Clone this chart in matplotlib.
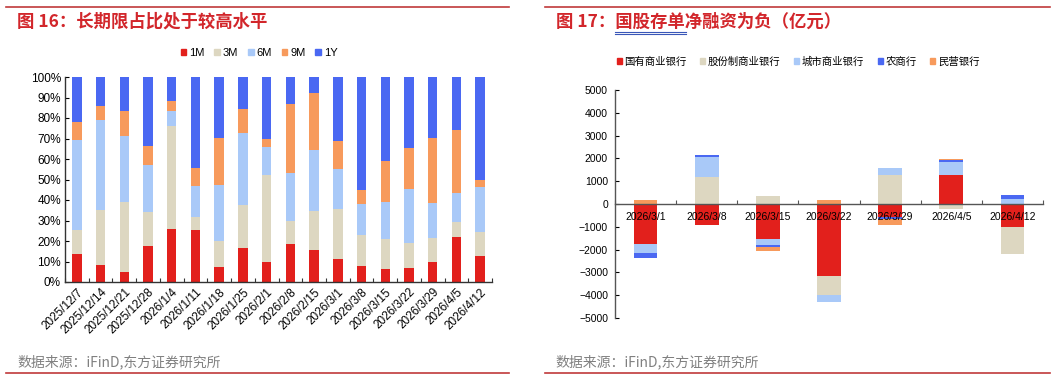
import matplotlib
matplotlib.use("Agg")
import matplotlib.pyplot as plt
from matplotlib.lines import Line2D
from matplotlib.patches import Patch
import numpy as np

plt.rcParams["font.family"] = ["Liberation Sans", "Noto Sans CJK SC", "DejaVu Sans"]

# ---- data: tenor shares of issuance (%) ----
weeks = ["2025/12/7", "2025/12/14", "2025/12/21", "2025/12/28", "2026/1/4",
         "2026/1/11", "2026/1/18", "2026/1/25", "2026/2/1", "2026/2/8",
         "2026/2/15", "2026/3/1", "2026/3/8", "2026/3/15", "2026/3/22",
         "2026/3/29", "2026/4/5", "2026/4/12"]
tenors = ["1M", "3M", "6M", "9M", "1Y"]
share_1m = [13.5, 8.5, 5.0, 17.4, 25.9, 25.5, 7.2, 16.4, 9.9, 18.7, 15.8, 11.2, 7.8, 6.5, 6.8, 9.9, 21.8, 12.7]
share_3m = [12.0, 26.8, 33.9, 16.6, 50.0, 6.2, 12.6, 21.3, 42.5, 10.9, 18.7, 24.6, 15.1, 14.5, 12.1, 11.7, 7.3, 11.7]
share_6m = [43.9, 43.9, 32.5, 23.0, 7.4, 15.3, 27.7, 35.0, 13.3, 23.6, 30.1, 19.3, 15.3, 18.2, 26.3, 16.9, 14.3, 21.8]
share_9m = [8.6, 6.5, 11.9, 9.5, 4.8, 8.4, 22.7, 11.7, 4.2, 33.8, 27.6, 13.8, 6.8, 19.8, 20.0, 31.9, 30.6, 3.7]
share_1y = [22.0, 14.3, 16.7, 33.5, 11.9, 44.6, 29.8, 15.6, 30.1, 13.0, 7.8, 31.1, 55.0, 41.0, 34.8, 29.6, 26.0, 50.1]

# ---- data: net financing by bank type (100m yuan) ----
dates = ["2026/3/1", "2026/3/8", "2026/3/15", "2026/3/22", "2026/3/29", "2026/4/5", "2026/4/12"]
bank_types = ["国有商业银行", "股份制商业银行", "城市商业银行", "农商行", "民营银行"]
net_state = [-1740, -930, -1530, -3140, -550, 1290, -1030]
net_joint = [0, 1170, 330, -850, 1290, -200, -1170]
net_city = [-410, 880, -250, -320, 290, 540, 230]
net_rural = [-220, 90, -90, 0, -120, 100, 170]
net_private = [190, 0, -170, 180, -250, 60, 0]

RED, BEIGE, LBLUE, BLUE, ORANGE = "#E2201C", "#DDD7C1", "#A9C9F8", "#4A68F2", "#F79A5C"
tenor_colors = [RED, BEIGE, LBLUE, ORANGE, BLUE]
bank_colors = [RED, BEIGE, LBLUE, BLUE, ORANGE]
title_red = "#D2262B"
rule_red = "#C0393B"

fig = plt.figure(figsize=(10.6, 3.86), dpi=100)


def frame_px(x0, x1, y, color=rule_red, lw=1.2):
    fig.add_artist(Line2D([x0 / 1060, x1 / 1060], [1 - y / 386] * 2, color=color, lw=lw))


def text_px(x, y, s, **kw):
    fig.text(x / 1060, 1 - y / 386, s, va="center", ha="left", **kw)


# decorations: report rules, titles, sources
frame_px(6, 509, 7)
frame_px(6, 509, 373)
frame_px(545, 1050, 7)
frame_px(545, 1050, 373)
text_px(17, 22, "图 16：长期限占比处于较高水平", color=title_red, fontsize=12.5, fontweight="bold",
        family=["Noto Sans CJK SC"])
text_px(556, 22, "图 17：国股存单净融资为负（亿元）", color=title_red, fontsize=12.5, fontweight="bold",
        family=["Noto Sans CJK SC"])
frame_px(615, 686, 31.5, color="#3A57B8", lw=0.8)
frame_px(615, 686, 33.5, color="#3A57B8", lw=0.8)
text_px(17, 362, "数据来源：iFinD,东方证券研究所", color="#808080", fontsize=10, family=["Noto Sans CJK SC"])
text_px(555, 362, "数据来源：iFinD,东方证券研究所", color="#808080", fontsize=10, family=["Noto Sans CJK SC"])

# ---- left: stacked percentage bars ----
ax1 = fig.add_axes([65 / 1060, 1 - 282 / 386, 427 / 1060, 205 / 386])
x1 = np.arange(len(weeks))
bottom = np.zeros(len(weeks))
for vals, c, name in zip([share_1m, share_3m, share_6m, share_9m, share_1y], tenor_colors, tenors):
    v = np.array(vals)
    ax1.bar(x1, v, 0.4, bottom=bottom, color=c, label=name)
    bottom += v
ax1.set_xlim(-0.5, len(weeks) - 0.5)
ax1.set_ylim(0, 100)
ax1.tick_params(axis="x", which="major", length=0, pad=3)
ax1.tick_params(axis="x", which="minor", direction="in", length=3, width=0.8, color="#333333")
ax1.tick_params(axis="y", direction="in", length=3, width=0.8, pad=3)
ax1.set_xticks(np.arange(-0.5, len(weeks), 1), minor=True)
ax1.set_xticks(x1, weeks, rotation=45, ha="right", rotation_mode="anchor", fontsize=8.5)
ax1.set_yticks(np.arange(0, 101, 10), [f"{t}%" for t in range(0, 101, 10)], fontsize=8.5)
for s in ["top", "right"]:
    ax1.spines[s].set_visible(False)
for s in ["left", "bottom"]:
    ax1.spines[s].set_color("#333333")
    ax1.spines[s].set_linewidth(1.0)
h1 = [Patch(color=c) for c in tenor_colors]
fig.legend(h1, tenors, loc="center", bbox_to_anchor=(259 / 1060, 1 - 53 / 386), ncol=5, frameon=False,
           fontsize=8, handlelength=0.5, handleheight=0.5, handletextpad=0.25, columnspacing=0.9)

# ---- right: stacked net financing ----
ax2 = fig.add_axes([615 / 1060, 1 - 318 / 386, 428 / 1060, 228 / 386])
x2 = np.arange(len(dates))
pos = np.zeros(len(dates))
neg = np.zeros(len(dates))
for vals, c, name in zip([net_state, net_joint, net_city, net_rural, net_private], bank_colors, bank_types):
    v = np.array(vals, dtype=float)
    base = np.where(v >= 0, pos, neg)
    ax2.bar(x2, v, 0.39, bottom=base, color=c, label=name)
    pos += np.where(v >= 0, v, 0)
    neg += np.where(v < 0, v, 0)
ax2.set_xlim(-0.5, len(dates) - 0.5)
ax2.set_ylim(-5000, 5000)
ax2.tick_params(axis="y", labelsize=7.5, direction="in", length=3, width=0.8, pad=5)
ax2.set_yticks(np.arange(-5000, 5001, 1000))
ax2.spines["bottom"].set_position(("data", 0))
for s in ["top", "right"]:
    ax2.spines[s].set_visible(False)
for s in ["left", "bottom"]:
    ax2.spines[s].set_color("#555555")
    ax2.spines[s].set_linewidth(1.0)
ax2.tick_params(axis="x", which="major", length=0, pad=6)
ax2.tick_params(axis="x", which="minor", direction="in", length=3, width=0.8, color="#555555")
ax2.set_xticks(np.arange(-0.5, len(dates), 1), minor=True)
ax2.set_xticks(x2, dates, fontsize=7.5)
h2 = [Patch(color=c) for c in bank_colors]
fig.legend(h2, bank_types, loc="center", bbox_to_anchor=(798 / 1060, 1 - 62 / 386), ncol=5, frameon=False,
           handlelength=0.5, handleheight=0.5, handletextpad=0.25, columnspacing=1.3,
           prop={"family": ["Noto Sans CJK SC"], "size": 7.5})

fig.savefig("out.png", dpi=100)
